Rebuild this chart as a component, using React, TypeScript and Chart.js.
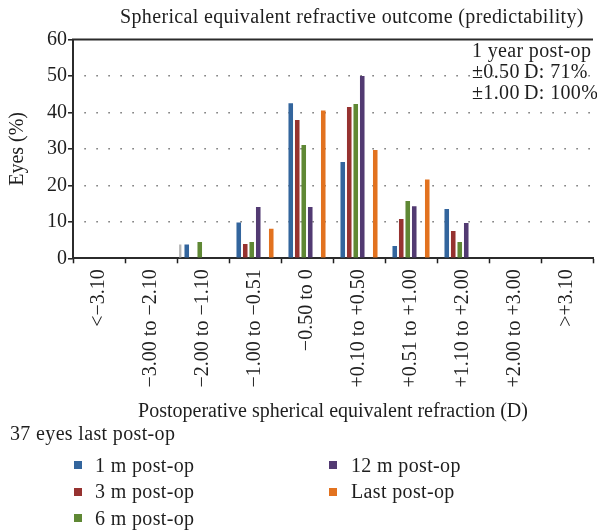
import React, { useEffect, useRef } from 'react';
import { Chart, registerables } from 'chart.js';

Chart.register(...registerables);

const categories = [
  '<\u22123.10',
  '\u22123.00 to \u22122.10',
  '\u22122.00 to \u22121.10',
  '\u22121.00 to \u22120.51',
  '\u22120.50 to 0',
  '+0.10 to +0.50',
  '+0.51 to +1.00',
  '+1.10 to +2.00',
  '+2.00 to +3.00',
  '>+3.10',
];

const seriesNames = ['1 m post-op', '3 m post-op', '6 m post-op', '12 m post-op', 'Last post-op'];
const seriesColors = ['#33659d', '#963230', '#5f8834', '#523a72', '#e2721f'];

const greyValues = [0, 0, 3.8, 0, 0, 0, 0, 0, 0, 0];
const m1Values = [0, 0, 3.8, 9.8, 42.5, 26.4, 3.4, 13.5, 0, 0];
const m3Values = [0, 0, 0, 3.9, 37.9, 41.5, 10.8, 7.5, 0, 0];
const m6Values = [0, 0, 4.5, 4.5, 31.1, 42.3, 15.7, 4.5, 0, 0];
const m12Values = [0, 0, 0, 14.1, 14.1, 50.0, 14.3, 9.7, 0, 0];
const emptySlot = [0, 0, 0, 0, 0, 0, 0, 0, 0, 0];
const lastValues = [0, 0, 0, 8.1, 40.5, 29.7, 21.6, 0, 0, 0];

const yMin = 0;
const yMax = 60;
const yStep = 10;

const titleText = 'Spherical equivalent refractive outcome (predictability)';
const noteLines = ['1 year post-op', '\u00b10.50\u2009D: 71%', '\u00b11.00\u2009D: 100%'];
const footText = '37 eyes last post-op';
const xTitle = 'Postoperative spherical equivalent refraction (D)';
const yTitle = 'Eyes (%)';

const FONT = '"Liberation Serif", "Times New Roman", serif';
const FS = 20;
const LH = FS * 1.107;
const ASC = FS * 0.891;

function Txt(props: { x: number; baseline: number; children: React.ReactNode }) {
  return (
    <div
      style={{
        position: 'absolute',
        left: props.x,
        top: props.baseline - ASC,
        fontFamily: FONT,
        fontSize: FS,
        lineHeight: LH + 'px',
        letterSpacing: '0.35px',
        whiteSpace: 'nowrap',
        color: '#1e1e1e',
      }}
    >
      {props.children}
    </div>
  );
}

const topLine = {
  id: 'topLine',
  afterDraw(chart: any) {
    const { ctx, chartArea } = chart;
    ctx.save();
    ctx.strokeStyle = '#2b2b2b';
    ctx.lineWidth = 2;
    ctx.beginPath();
    ctx.moveTo(chartArea.left - 1, chartArea.top);
    ctx.lineTo(chartArea.right, chartArea.top);
    ctx.stroke();
    ctx.restore();
  },
};

export default function App() {
  const ref = useRef<HTMLCanvasElement | null>(null);

  useEffect(() => {
    if (!ref.current) return;
    Chart.defaults.font.family = FONT;
    Chart.defaults.font.size = FS;
    Chart.defaults.color = '#1e1e1e';
    const mk = (label: string, data: number[], color: string, bp = 0.7) => ({
      label,
      data,
      backgroundColor: color,
      borderWidth: 0,
      barPercentage: bp,
      categoryPercentage: 1.0,
    });
    const chart = new Chart(ref.current, {
      type: 'bar',
      data: {
        labels: categories,
        datasets: [
          mk('', greyValues, '#b4b4b4', 0.35),
          mk(seriesNames[0], m1Values, seriesColors[0]),
          mk(seriesNames[1], m3Values, seriesColors[1]),
          mk(seriesNames[2], m6Values, seriesColors[2]),
          mk(seriesNames[3], m12Values, seriesColors[3]),
          mk('', emptySlot, 'transparent'),
          mk(seriesNames[4], lastValues, seriesColors[4]),
          mk('', emptySlot, 'transparent'),
        ],
      },
      options: {
        responsive: false,
        animation: false,
        devicePixelRatio: 1,
        layout: { padding: { top: 39.5, left: 0, right: 0, bottom: 107.5 } },
        plugins: {
          legend: { display: false },
          title: { display: false },
          tooltip: { enabled: false },
        },
        scales: {
          x: {
            offset: true,
            afterFit: (s: any) => {
              s.height = 165.2;
            },
            grid: {
              display: true,
              drawOnChartArea: false,
              drawTicks: true,
              tickLength: 5,
              tickColor: '#1e1e1e',
              tickWidth: 1.5,
              offset: true,
            },
            border: { display: true, color: '#2b2b2b', width: 2 },
            ticks: {
              minRotation: 90,
              maxRotation: 90,
              autoSkip: false,
              padding: 6,
              color: '#1e1e1e',
              font: { size: FS, family: FONT },
            },
            title: {
              display: true,
              text: xTitle,
              color: '#1e1e1e',
              font: { size: FS, family: FONT },
              padding: 0,
            },
          },
          y: {
            min: yMin,
            max: yMax,
            afterFit: (s: any) => {
              s.width = 73;
            },
            ticks: {
              stepSize: yStep,
              padding: 1,
              color: '#1e1e1e',
              font: { size: FS, family: FONT },
            },
            grid: {
              color: (c: any) =>
                c.tick && (c.tick.value === yMin || c.tick.value === yMax) ? 'rgba(0,0,0,0)' : '#7a7a7a',
              lineWidth: 1.6,
              tickLength: 5,
              tickColor: '#1e1e1e',
              tickWidth: 1.5,
              tickBorderDash: [],
            },
            border: { display: true, color: '#2b2b2b', width: 2, dash: [1.6, 10.4], dashOffset: 1.7 },
            title: {
              display: true,
              text: yTitle,
              color: '#1e1e1e',
              font: { size: FS, family: FONT },
              padding: { top: 6, bottom: 0 },
            },
          },
        },
      },
      plugins: [topLine],
    } as any);
    return () => chart.destroy();
  }, []);

  const legendPos = [
    { mx: 77.7, tx: 95, b: 471.7 },
    { mx: 77.7, tx: 95, b: 498.2 },
    { mx: 77.7, tx: 95, b: 524.7 },
    { mx: 333, tx: 351, b: 471.7 },
    { mx: 333, tx: 351, b: 498.2 },
  ];

  return (
    <div style={{ position: 'absolute', left: 0, top: 0, width: 597, height: 531, background: '#fff' }}>
      <canvas ref={ref} width={597} height={531} style={{ position: 'absolute', left: 0, top: 0, width: 597, height: 531 }} />
      <Txt x={120} baseline={23.3}>{titleText}</Txt>
      {noteLines.map((t, i) => (
        <Txt key={t} x={472} baseline={57.3 + i * 21}>{t}</Txt>
      ))}
      <Txt x={10} baseline={440}>{footText}</Txt>
      {seriesNames.map((n, i) => (
        <React.Fragment key={n}>
          <div
            style={{
              position: 'absolute',
              left: legendPos[i].mx - 4,
              top: legendPos[i].b - 6.7 - 4,
              width: 8,
              height: 8,
              background: seriesColors[i],
            }}
          />
          <Txt x={legendPos[i].tx} baseline={legendPos[i].b}>{n}</Txt>
        </React.Fragment>
      ))}
    </div>
  );
}
